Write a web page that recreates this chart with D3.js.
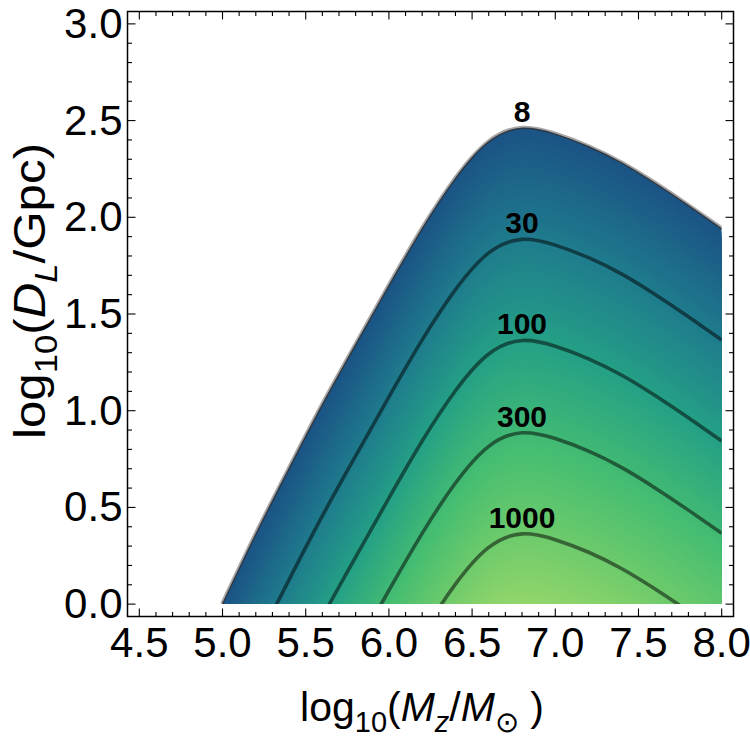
<!DOCTYPE html>
<html><head><meta charset="utf-8">
<script src="https://cdn.jsdelivr.net/npm/d3@7"></script>
<style>body{margin:0;background:#fff}</style>
</head><body><svg id="c" width="750" height="740"></svg>
<script>
// ---- data ----
const logMass      = [5.0, 5.2, 5.4, 5.6, 5.8, 6.0, 6.2, 6.4, 6.6, 6.8, 7.0, 7.2, 7.4, 7.6, 7.8, 8.0];
const logDistSNR8  = [0.0, 0.36, 0.70, 1.03, 1.34, 1.645, 1.94, 2.20, 2.39, 2.46, 2.43, 2.365, 2.28, 2.175, 2.06, 1.94];
const contourLevels = [8, 30, 100, 300, 1000];
const xTickValues = [4.5, 5.0, 5.5, 6.0, 6.5, 7.0, 7.5, 8.0];
const yTickValues = [0.0, 0.5, 1.0, 1.5, 2.0, 2.5, 3.0];

const svg = d3.select("#c");
const F = {l:127.5, r:733.5, t:11.5, b:616.5};
const x = d3.scaleLinear().domain([4.429, 8.071]).range([F.l, F.r]);
const y = d3.scaleLinear().domain([-0.064, 3.064]).range([F.b, F.t]);

const base = Math.log10(contourLevels[0]);
const pts = logMass.map((m,i)=>({m, d:logDistSNR8[i]}));
const maxLog = base + d3.max(logDistSNR8);
const tScale = d3.scaleLinear().domain([base, maxLog]).range([0, 1]);
const ramp = d3.scaleLinear()
  .domain([0, 0.23, 0.45, 0.67, 0.85, 1])
  .range(["#1b5385", "#1f7b8d", "#25a086", "#45bd72", "#6cca6b", "#92d66b"])
  .interpolate(d3.interpolateRgb);
const col = v => ramp(tScale(v));

const defs = svg.append("defs");
defs.append("clipPath").attr("id","clip").append("rect")
  .attr("x", F.l).attr("y", F.t)
  .attr("width", x(8.0)-F.l).attr("height", y(0)-F.t);

const curve = d3.curveNatural;
const areaAt = shift => d3.area().curve(curve)
  .x(p=>x(p.m)).y0(y(-0.2)).y1(p=>y(p.d - shift));
const lineAt = shift => d3.line().curve(curve)
  .x(p=>x(p.m)).y(p=>y(p.d - shift));

const g = svg.append("g").attr("clip-path","url(#clip)");
// halo of outer contour
g.append("path").attr("d", lineAt(0)(pts)).attr("fill","none")
  .attr("stroke","#a8a8a8").attr("stroke-width",5);
// colour bands
const step = 0.015;
for (let L = base; L < maxLog; L += step) {
  g.append("path").attr("d", areaAt(L-base)(pts))
    .attr("fill", col(L + step/2)).attr("stroke","none");
}
// outer contour edge
g.append("path").attr("d", lineAt(0)(pts)).attr("fill","none")
  .attr("stroke","#2a2f36").attr("stroke-width",1.5).attr("stroke-opacity",0.85);
// inner contours
contourLevels.slice(1).forEach(lv=>{
  g.append("path").attr("d", lineAt(Math.log10(lv)-base)(pts)).attr("fill","none")
    .attr("stroke","#000").attr("stroke-opacity",0.5).attr("stroke-width",3.6);
});

// contour labels
const peakInterp = m => {
  const i = d3.bisectLeft(logMass, m);
  const t = (m - logMass[i-1])/(logMass[i]-logMass[i-1]);
  return logDistSNR8[i-1] + t*(logDistSNR8[i]-logDistSNR8[i-1]);
};
const labelM = 6.80;
contourLevels.forEach(lv=>{
  const dv = peakInterp(labelM) - (Math.log10(lv)-base);
  svg.append("text").attr("x", x(labelM)).attr("y", y(dv) - 6)
    .attr("text-anchor","middle").attr("font-family","Liberation Sans, Arial, sans-serif")
    .attr("font-weight","bold").attr("font-size",30).attr("fill","#000").text(lv);
});

// frame
svg.append("rect").attr("x",F.l).attr("y",F.t).attr("width",F.r-F.l).attr("height",F.b-F.t)
  .attr("fill","none").attr("stroke","#000").attr("stroke-width",1.5);

// ticks
const minorX = d3.range(45, 81).map(v=>v/10);
const minorY = d3.range(0, 31).map(v=>v/10);
const tk = svg.append("g").attr("stroke","#000").attr("stroke-width",1.1);
const isMajor = v => Math.abs(v*2 - Math.round(v*2)) < 1e-6;
minorX.forEach(v=>{
  const L = isMajor(v)?8:4.5, px = x(v);
  tk.append("line").attr("x1",px).attr("x2",px).attr("y1",F.b).attr("y2",F.b-L);
  tk.append("line").attr("x1",px).attr("x2",px).attr("y1",F.t).attr("y2",F.t+L);
});
minorY.forEach(v=>{
  const L = isMajor(v)?8:4.5, py = y(v);
  tk.append("line").attr("y1",py).attr("y2",py).attr("x1",F.l).attr("x2",F.l+L);
  tk.append("line").attr("y1",py).attr("y2",py).attr("x1",F.r).attr("x2",F.r-L);
});
const fmt = d3.format(".1f");
const font = "Liberation Sans, Arial, sans-serif";
xTickValues.forEach(v=>{
  svg.append("text").attr("x",x(v)).attr("y",F.b+40).attr("text-anchor","middle")
    .attr("font-family",font).attr("font-size",42).text(fmt(v));
});
yTickValues.forEach(v=>{
  svg.append("text").attr("x",F.l-5).attr("y",y(v)+14).attr("text-anchor","end")
    .attr("font-family",font).attr("font-size",42).text(fmt(v));
});

// axis titles
const xt = svg.append("text").attr("x",422).attr("y",721).attr("text-anchor","middle")
  .attr("font-family",font).attr("font-size",41);
xt.append("tspan").text("log");
xt.append("tspan").attr("font-size",29).attr("dy",11).text("10");
xt.append("tspan").attr("dy",-11).text("(");
xt.append("tspan").attr("font-style","italic").text("M");
xt.append("tspan").attr("font-size",29).attr("font-style","italic").attr("dy",11).text("z");
xt.append("tspan").attr("dy",-11).text("/");
xt.append("tspan").attr("font-style","italic").text("M");
xt.append("tspan").attr("font-size",29).attr("dy",11).text("\u2299");
xt.append("tspan").attr("dy",-11).text(" )");

const yt = svg.append("text").attr("transform","translate(45,291) rotate(-90) scale(1.12,1)")
  .attr("text-anchor","middle").attr("font-family",font).attr("font-size",44);
yt.append("tspan").text("log");
yt.append("tspan").attr("font-size",31).attr("dy",12).text("10");
yt.append("tspan").attr("dy",-12).text("(");
yt.append("tspan").attr("font-style","italic").text("D");
yt.append("tspan").attr("font-size",31).attr("font-style","italic").attr("dy",12).text("L");
yt.append("tspan").attr("dy",-12).text("/Gpc)");
</script></body></html>
